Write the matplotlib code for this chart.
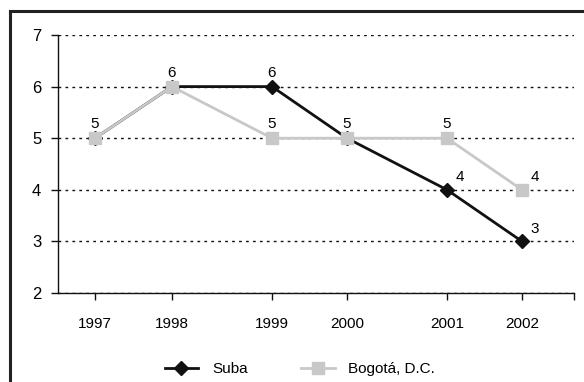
import matplotlib.pyplot as plt
from matplotlib.lines import Line2D

# datos
years = ['1997', '1998', '1999', '2000', '2001', '2002']
suba = [5, 6, 6, 5, 4, 3]
bogota = [5, 6, 5, 5, 5, 4]

# posiciones de las categorias (espaciado irregular como en el original)
xpos = [0.0, 0.77, 1.77, 2.52, 3.52, 4.27]

plt.rcParams['font.family'] = ['Liberation Sans', 'DejaVu Sans']

fig = plt.figure(figsize=(5.84, 3.82), dpi=100)
ax = fig.add_axes([58 / 584, 1 - 293 / 382, (574 - 58) / 584, (293 - 35) / 382])

c_suba = '#111111'
c_bog = '#c8c8c8'

ax.plot(xpos, suba, color=c_suba, lw=2, marker='D', ms=7, zorder=3)
ax.plot(xpos, bogota, color=c_bog, lw=2, marker='s', ms=8, zorder=4)

fs = 11


def etiqueta(x, v, lado):
    if lado == 'r':
        ax.annotate(str(v), (x, v), xytext=(6, 4), textcoords='offset points',
                    fontsize=fs, ha='left', va='bottom', zorder=6)
    else:
        ax.annotate(str(v), (x, v), xytext=(0, 5), textcoords='offset points',
                    fontsize=fs, ha='center', va='bottom', zorder=6)


# etiquetas de valores
for i, (x, v) in enumerate(zip(xpos, suba)):
    etiqueta(x, v, 'r' if i >= 4 else 'c')
for i, (x, v) in enumerate(zip(xpos, bogota)):
    if i in (0, 1, 3):
        continue
    etiqueta(x, v, 'r' if i == 5 else 'c')

ax.set_xlim(-0.37, 4.79)
ax.set_ylim(2, 7)
ax.set_yticks([2, 3, 4, 5, 6, 7])
ax.set_xticks(xpos)
ax.set_xticklabels(years)
ax.set_xticks([4.79], minor=True)
ax.tick_params(axis='x', which='both', direction='out', length=5, width=1,
               labelsize=fs, pad=12, color='#111111')
ax.tick_params(axis='y', direction='out', length=5, width=1, labelsize=12,
               pad=7, color='#111111')

for s in ['top', 'right']:
    ax.spines[s].set_visible(False)
for s in ['left', 'bottom']:
    ax.spines[s].set_color('#111111')
    ax.spines[s].set_linewidth(1)
ax.yaxis.grid(True, ls=(0, (2, 3)), color='#111111', lw=1)
ax.set_axisbelow(True)

ax.legend([Line2D([], [], color=c_suba, lw=2, marker='D', ms=7),
           Line2D([], [], color=c_bog, lw=2, marker='s', ms=8)],
          ['Suba', 'Bogotá, D.C.'], ncol=2, frameon=False,
          loc='center left', bbox_to_anchor=(157 / 584, 1 - 369 / 382),
          bbox_transform=fig.transFigure, fontsize=fs, borderpad=0,
          handlelength=2.2, columnspacing=3.5, handletextpad=0.9)

# marco exterior (cortado a la derecha y abajo)
fig.add_artist(Line2D([10 / 584, 1], [1 - 11 / 382] * 2, color='#222222', lw=2.2,
                      transform=fig.transFigure))
fig.add_artist(Line2D([10 / 584, 10 / 584], [0, 1 - 11 / 382], color='#222222',
                      lw=2.2, transform=fig.transFigure))

fig.savefig('out.png', dpi=100)
